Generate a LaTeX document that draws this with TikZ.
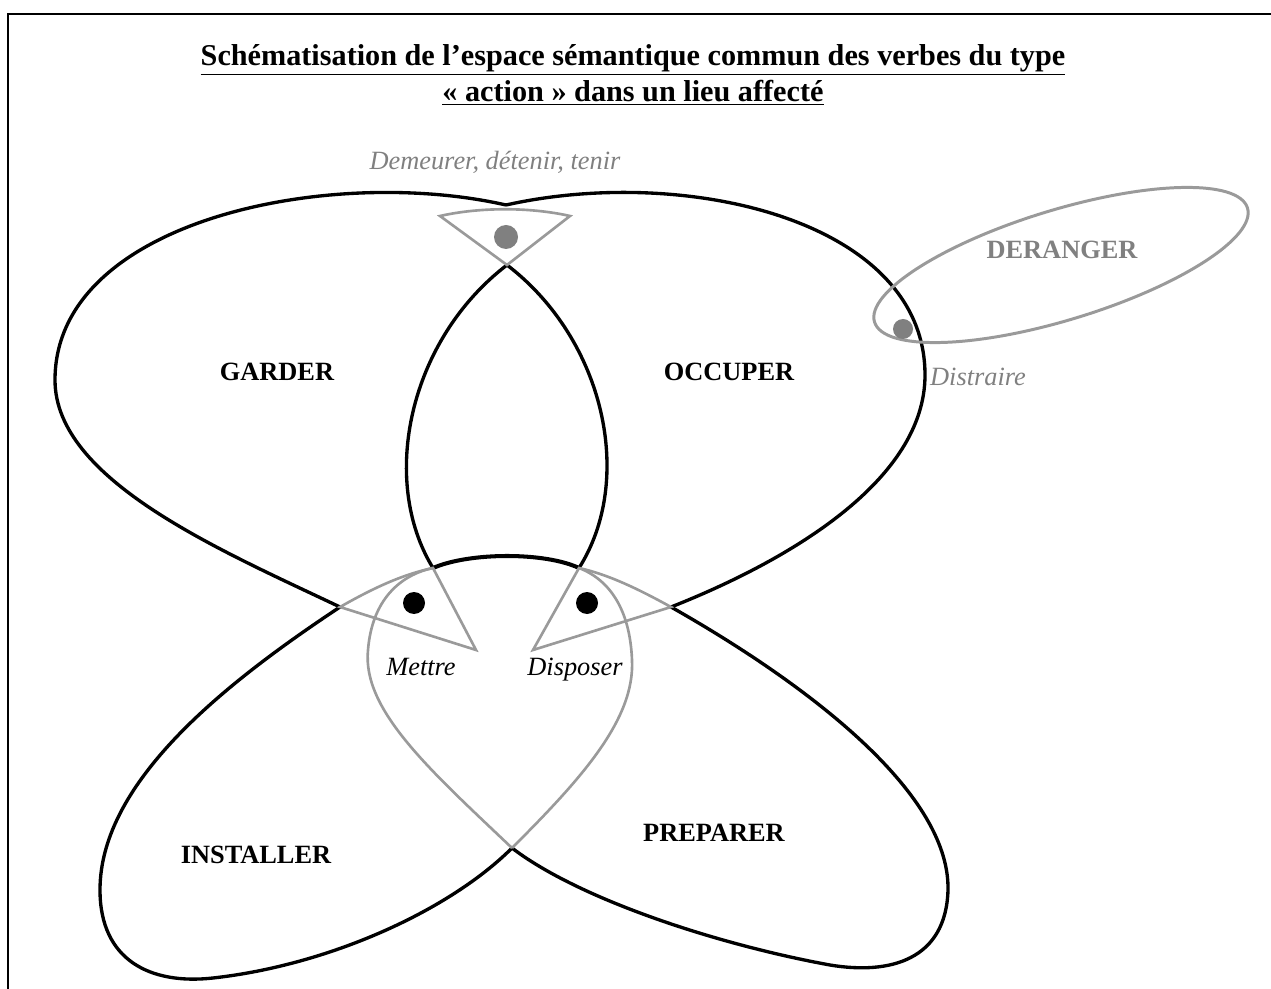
\documentclass[tikz,border=0pt]{standalone}
\usepackage{fontspec}
\setmainfont{Liberation Serif}
\usepackage{tikz}
\definecolor{LGray}{HTML}{9A9A9A}
\definecolor{TGray}{HTML}{808080}

\begin{document}
\begin{tikzpicture}[
    x=0.02cm, y=-0.02cm,
    lobe/.style={line width=1.9pt, black},
    overlap/.style={line width=1.5pt, LGray},
    label/.style={font=\fontsize{15}{18}\selectfont\bfseries, inner sep=0pt},
    gloss/.style={font=\fontsize{15}{18}\selectfont\itshape, inner sep=0pt, anchor=base}
]
\useasboundingbox (0,0) rectangle (1271,989);

% Frame (top and left)
\draw[line width=1.1pt] (1271,14) -- (8,14) -- (8,989);

% Title
\node[align=center, font=\fontsize{17.2}{20.5}\selectfont\bfseries] (title) at (633,75)
    {\underline{Schématisation de l’espace sémantique commun des verbes du type}\\\underline{« action » dans un lieu affecté}};

% GARDER lobe
\draw[lobe] (506,205) .. controls (330,165) and (55,220) .. (55,380)
    .. controls (55,480) and (220,550) .. (340,607);
\draw[lobe] (507,265) .. controls (605,340) and (635,480) .. (579,568);

% OCCUPER lobe
\draw[lobe] (506,205) .. controls (685,165) and (925,220) .. (925,375)
    .. controls (925,480) and (790,560) .. (671,607);
\draw[lobe] (507,265) .. controls (409,340) and (379,480) .. (433,568);

% shared arc
\draw[lobe, line width=2.3pt] (433,568) .. controls (470,552) and (545,552) .. (579,568);

% INSTALLER lobe
\draw[lobe] (340,607) .. controls (230,680) and (100,780) .. (100,890)
    .. controls (100,960) and (150,985) .. (213,978)
    .. controls (330,965) and (450,910) .. (512,848);

% PREPARER lobe
\draw[lobe] (671,607) .. controls (800,680) and (950,790) .. (948,890)
    .. controls (946,960) and (890,975) .. (830,965)
    .. controls (720,945) and (580,900) .. (512,848);

% overlaps (grey)
\draw[overlap] (512,848) .. controls (430,770) and (362,710) .. (368,650)
    .. controls (372,600) and (400,575) .. (433,568);
\draw[overlap] (512,848) .. controls (580,780) and (635,720) .. (632,660)
    .. controls (630,610) and (610,580) .. (579,568);
\draw[overlap] (440,216) .. controls (480,207) and (530,207) .. (570,216) -- (507,265) -- cycle;
\draw[overlap] (340,607) .. controls (370,590) and (400,575) .. (433,568) -- (476,650) -- cycle;
\draw[overlap] (671,607) .. controls (640,590) and (610,575) .. (579,568) -- (533,650) -- cycle;

% DERANGER
\draw[line width=1.7pt, LGray, rotate around={17:(1061,265)}] (1061,265) ellipse [x radius=195, y radius=55];

% dots
\fill[TGray] (506,237) circle [radius=12];
\fill[TGray] (903,329) circle [radius=10];
\fill (414,603) circle [radius=11];
\fill (587,603) circle [radius=11];

% Labels
\node[label] (garder) at (277,372) {GARDER};
\node[label] (occuper) at (729,372) {OCCUPER};
\node[label] (installer) at (256,855) {INSTALLER};
\node[label] (preparer) at (714,833) {PREPARER};
\node[label, TGray] (deranger) at (1062,250) {DERANGER};
\node[gloss, TGray] (demeurer) at (495,170) {Demeurer, détenir, tenir};
\node[gloss, TGray] (distraire) at (978,386) {Distraire};
\node[gloss] (mettre) at (421,675) {Mettre};
\node[gloss] (disposer) at (575,675) {Disposer};
\end{tikzpicture}
\end{document}
